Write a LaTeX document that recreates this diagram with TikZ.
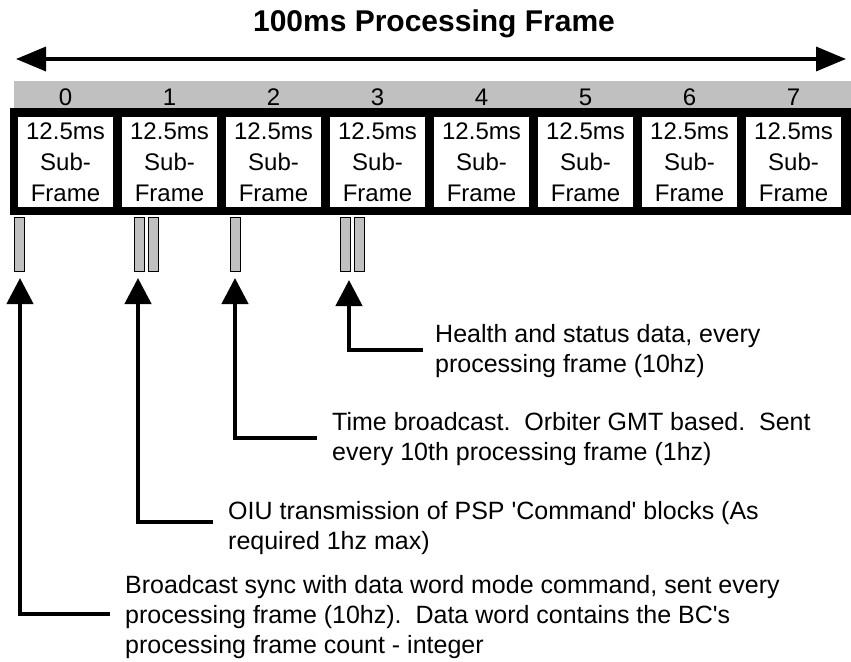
\documentclass[tikz,border=0pt]{standalone}
\usepackage{fontspec}
\setmainfont{Liberation Sans}
\newfontfamily\plainarial{Liberation Sans}
\usetikzlibrary{arrows.meta}
\definecolor{bargray}{HTML}{C0C0C0}
\begin{document}
\begin{tikzpicture}[x=1pt,y=-1pt,
  conn/.style={line width=4.5pt,-{Triangle[width=26pt,length=26pt]}},
  sfbox/.style={fill=white,minimum width=95pt,minimum height=90pt,inner sep=0pt,align=center,font=\fontsize{24}{31}\selectfont},
  numlbl/.style={anchor=base,font=\fontsize{24}{28}\selectfont},
  sig/.style={draw=black,line width=0.9pt,fill=bargray,minimum width=10pt,minimum height=54pt,inner sep=0pt},
  note/.style={anchor=west,align=left,inner sep=0pt,font=\plainarial\fontsize{25}{30}\selectfont}]
\useasboundingbox (0,0) rectangle (851,661);
% title and frame arrow
\node[anchor=base,font=\fontsize{30}{34}\selectfont\bfseries] (title) at (434,31.5) {100ms Processing Frame};
\coordinate (fl) at (16,59);
\coordinate (fr) at (846,59);
\draw[line width=3.5pt,{Triangle[width=24pt,length=30pt]}-{Triangle[width=24pt,length=30pt]}] (fl) -- (fr);
% number bar and frame
\fill[bargray] (14,81) rectangle (851,107.5);
\fill[black] (10,107.5) rectangle (851,215);
\foreach \i in {0,...,7}{
  \node[numlbl] (n\i) at (65.5+104*\i,105) {\i};
  \node[sfbox] (b\i) at (65.5+104*\i,162) {12.5ms\\Sub-\\Frame};
}
% message slots
\node[sig] (s0) at (19.5,244.5) {};
\node[sig] (s1a) at (139.5,244.5) {};
\node[sig] (s1b) at (153.5,244.5) {};
\node[sig] (s2) at (235.5,244.5) {};
\node[sig] (s3a) at (345.5,244.5) {};
\node[sig] (s3b) at (359,244.5) {};
% notes
\node[note] (health) at (435,351.5) {Health and status data, every\\processing frame (10hz)};
\node[note] (time) at (332,439) {Time broadcast.\ \ Orbiter GMT based.\ \ Sent\\every 10th processing frame (1hz)};
\node[note] (oiu) at (228,528.5) {OIU transmission of PSP 'Command' blocks (As\\required 1hz max)};
\node[note] (bcast) at (125,617.5) {Broadcast sync with data word mode command, sent every\\processing frame (10hz).\ \ Data word contains the BC's\\processing frame count - integer};
% connectors
\coordinate (h3) at (423,350);  \coordinate (t3) at (349,280);
\coordinate (h2) at (317,438);  \coordinate (t2) at (235,278);
\coordinate (h1) at (213,522);  \coordinate (t1) at (138,278);
\coordinate (h0) at (110,614);  \coordinate (t0) at (20,278);
\draw[conn] (h3) -| (t3);
\draw[conn] (h2) -| (t2);
\draw[conn] (h1) -| (t1);
\draw[conn] (h0) -| (t0);
\end{tikzpicture}
\end{document}
